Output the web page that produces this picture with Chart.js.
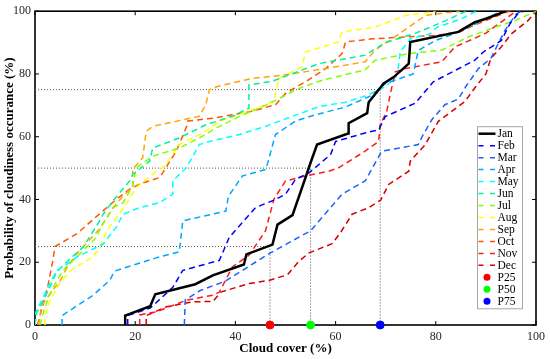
<!DOCTYPE html>
<html>
<head>
<meta charset="utf-8">
<script src="https://cdn.jsdelivr.net/npm/chart.js@4.4.1/dist/chart.umd.min.js"></script>
<style>
  html, body { margin: 0; padding: 0; background: #fff; }
</style>
</head>
<body>
<canvas id="cdf" width="550" height="359"></canvas>
<script>
// monthly CDF curves, [cloud cover %, probability %]
const months = ['Jan', 'Feb', 'Mar', 'Apr', 'May', 'Jun', 'Jul', 'Aug', 'Sep', 'Oct', 'Nov', 'Dec'];
const monthColors = ['#000000', '#0000ff', '#1f5fff', '#00a6ff', '#00ffff', '#00f0a0',
                     '#80ff00', '#ffff00', '#ffa500', '#ff5500', '#ff1a1a', '#d40000'];

const jan = [[18,0],[18,3],[23,6],[24,9.8],[32,13],[35.5,15.8],[41.7,19.3],[42.2,22.5],[47.4,25.6],[48.4,32],
  [51.4,35],[54,47],[55,51.7],[56.3,57.5],[62.5,61],[62.6,64.3],[66.3,67.5],[66.6,71],[69.6,77],[71.6,79],
  [74.6,83.3],[74.9,90.2],[84.5,93.4],[87.8,96.5],[90,97.6],[94,100]];
const feb = [[18.5,0],[18.5,3],[23,5.4],[27.5,12],[29.5,17.4],[36.8,20.6],[38.8,28],[44,37.4],[48,40],[50,41.7],
  [52,46.4],[54.7,48.5],[59,54.3],[60,58.5],[65.9,61.2],[68.6,62.2],[69.9,66.4],[75.9,70.7],[79.5,77.5],
  [87.8,84.4],[89.5,87],[93.1,90.7],[94.8,96],[96.4,99.2],[97.5,100]];
const mar = [[29.8,0],[30,8],[33,11],[38,14],[42,18],[47,23],[52.7,28],[55,30],[61.3,41.7],[65.9,45.9],
  [69.2,55.4],[76.5,57.5],[77.5,60.7],[79.2,65.4],[81.8,70.2],[84.5,72],[86,76],[88.5,81.7],[91,85],
  [93.8,93.9],[96,99],[97,100]];
const apr = [[5.4,0],[5.4,3],[11.6,9.5],[14.9,14.2],[15.9,17.2],[24.2,21.4],[28.8,23.3],[29.5,33.2],[38.1,36.3],
  [38.6,41],[41.4,47.5],[46.1,49.6],[48,60.7],[52,65],[56,67],[62,69.5],[67,73],[70,77],[75.5,80],[76.5,87.5],
  [80,90.7],[84,93],[88,96],[93,100]];
const may = [[0,0],[0,3.5],[2.3,11],[4.3,17.4],[5.6,18.5],[8.3,21.6],[10.9,23.7],[13.6,25.8],[16.2,31.1],
  [17.6,35.3],[20.9,37.4],[24.9,39],[27.5,41.7],[27.5,45.9],[30.2,50.1],[32.8,57.5],[34.8,58.5],[40.8,60.7],
  [46,63.3],[51.4,66.5],[56.7,69.6],[62,71],[66,73],[70,76],[72,79],[72.6,82.8],[72.9,87],[74.9,91.2],
  [78.9,92.8],[80.2,94.9],[85,97.5],[88,100]];
const jun = [[0,0],[0.3,3.7],[3,12.1],[4.3,16.9],[7,21.1],[9.6,24.8],[12.3,31.6],[13.6,35.3],[15.6,39.6],
  [16.9,42.2],[18.9,45.9],[19.5,48],[22.9,52.2],[23.5,56.4],[28.8,59.6],[34.1,63.8],[39.4,66.5],[42.7,69.1],
  [42.7,76.5],[47.4,77.7],[56.7,83.3],[65.9,86],[67.9,88],[70,90],[76,93],[82,97],[86,100]];
const jul = [[1,0],[1.5,3],[2.3,7],[3.6,12],[5.6,17.4],[7.6,20.6],[9.6,23.7],[12.3,28],[13.3,31.6],[15.6,37.4],
  [17.6,39],[19.5,44.3],[20.2,50],[23.5,53.8],[28.8,56.4],[32.8,59.6],[35.5,62.2],[40.8,66.5],[46,70],
  [52.7,75.4],[57.3,78],[65.9,81.3],[67.9,84.4],[74.6,86.5],[81.2,87.6],[86.5,91.8],[91.8,94.9],[95.8,97],[100,100]];
const aug = [[2,0],[2,3],[3,7.9],[5.3,14.2],[7.6,17.9],[10.9,21.1],[12.9,24.3],[14.3,30],[18.2,38.5],[20.2,43.8],
  [23.5,48],[26.2,51.2],[28.8,57.5],[33.5,61.2],[36.8,64.9],[43.4,68.6],[47.7,71.2],[48.7,78.6],[53.3,82.3],
  [54,87],[60.6,90.2],[61.3,93.4],[67.9,94.9],[73.9,98.6],[80,100]];
const sep = [[0.7,0],[1,3],[1.3,6],[3,10],[5,14],[6.3,18],[8.3,22.7],[12.9,30.6],[15.6,37.4],[17.5,41],[19.5,44],
  [19.5,49.6],[21.5,53.3],[22.2,61.7],[23.5,63.3],[32.8,66.5],[34.1,70.2],[34.8,75],[36.4,76],[43.4,78.6],
  [49.4,79.6],[58,81.7],[65.9,83.9],[67.9,87.6],[72,92],[78,98.7],[84.8,100]];
const oct = [[0.5,0],[1,3],[1.7,7],[2.6,12.7],[3.5,20],[4,25],[8.3,29],[13.3,36],[16.2,40],[18.9,43.3],[21,45],
  [24.9,47],[28.2,55.4],[30.2,63],[30.5,65],[36,66],[39.4,67],[43,68],[48,70.2],[50,73.8],[54,77.5],[58,81.7],
  [61.3,86.5],[62,90.2],[67.3,91.2],[80,92.3],[84.8,93.4],[87.5,95.4],[94.1,99.7],[95,100]];
const nov = [[20.9,0],[20.9,3.2],[24.2,4.2],[30.2,7.9],[35.5,9.5],[36.8,10.5],[39.4,18.5],[42.7,22.2],[46,30],
  [47.7,40.1],[50,45.9],[54,47.5],[58.6,49],[60.6,50.1],[65.9,55.4],[68.6,58.5],[68.9,63.8],[70.2,68],
  [70.6,71.2],[71.9,80.7],[73.9,81.7],[81.2,83.9],[83.8,88.6],[87.5,91.2],[90,93],[93,96.5],[96,100]];
const dec = [[22.2,0],[22.2,3],[26.2,5.8],[31.5,7.4],[35.5,7.5],[37.1,10.5],[42.7,13.2],[46.7,14.2],[50.4,16],
  [52.5,20],[54.7,23],[59.3,25.9],[61,29.5],[63.3,35.3],[66.6,37.4],[69,39.8],[70.6,44.8],[74.6,49],
  [74.9,52.2],[77.9,57.5],[80.5,64.9],[85.8,71.2],[88,76],[90,80],[91,85],[93,88.5],[95.1,92.8],[98.4,97],[100,100]];
const curves = [jan, feb, mar, apr, may, jun, jul, aug, sep, oct, nov, dec];

// percentiles of January
const pLabels = ['P25', 'P50', 'P75'];
const pLevels = [25, 50, 75];
const pCover = [46.9, 55, 68.9];
const pColors = ['#ff0000', '#00ff00', '#0000ff'];

const axisTicks = [0, 20, 40, 60, 80, 100];

const serif = "'Liberation Serif', 'Times New Roman', serif";

const datasets = [];
months.forEach((m, i) => {
  datasets.push({
    label: m,
    data: curves[i].map(p => ({ x: p[0], y: p[1] })),
    showLine: true,
    borderColor: monthColors[i],
    borderWidth: i === 0 ? 2.5 : 1.5,
    borderDash: i === 0 ? [] : [6, 4],
    pointRadius: 0,
    order: i === 0 ? 1 : 2,
    legendKind: 'line'
  });
});
// dotted guide lines
pLevels.forEach((lvl, i) => {
  datasets.push({
    label: 'guide' + i,
    data: [{ x: 0, y: lvl }, { x: pCover[i], y: lvl }, { x: pCover[i], y: 0 }],
    showLine: true,
    borderColor: '#555',
    borderWidth: 1,
    borderDash: [1, 2],
    pointRadius: 0,
    order: 5
  });
});
pLabels.forEach((lab, i) => {
  datasets.push({
    label: lab,
    data: [{ x: pCover[i], y: 0 }],
    pointRadius: 4,
    pointBackgroundColor: pColors[i],
    pointBorderColor: pColors[i],
    clip: false,
    order: 0,
    legendKind: 'dot'
  });
});

const frame = {
  id: 'frame',
  beforeDatasetsDraw(chart) {
    const { ctx, chartArea: a, scales: { x, y } } = chart;
    ctx.save();
    ctx.strokeStyle = '#000';
    ctx.lineWidth = 1;
    axisTicks.forEach(v => {
      const px = x.getPixelForValue(v), py = y.getPixelForValue(v);
      ctx.beginPath();
      ctx.moveTo(px, a.bottom); ctx.lineTo(px, a.bottom - 4);
      ctx.moveTo(px, a.top); ctx.lineTo(px, a.top + 4);
      ctx.moveTo(a.left, py); ctx.lineTo(a.left + 4, py);
      ctx.moveTo(a.right, py); ctx.lineTo(a.right - 4, py);
      ctx.stroke();
    });
    ctx.lineWidth = 1.6;
    ctx.strokeRect(a.left, a.top, a.right - a.left, a.bottom - a.top);
    ctx.restore();
  }
};

const legendBox = {
  id: 'legendBox',
  afterDraw(chart) {
    const { ctx, chartArea: a } = chart;
    const items = chart.data.datasets.filter(d => d.legendKind);
    const x0 = a.right - 59, y0 = a.top + 115, w = 45, rowH = 11.97;
    const h = items.length * rowH + 2.5;
    ctx.save();
    ctx.fillStyle = '#fff';
    ctx.fillRect(x0, y0, w, h);
    ctx.strokeStyle = '#a6a6a6';
    ctx.lineWidth = 1;
    ctx.strokeRect(x0 + 0.5, y0 + 0.5, w, h);
    ctx.font = '11.5px ' + serif;
    ctx.textBaseline = 'middle';
    items.forEach((d, i) => {
      const cy = y0 + 7.5 + i * rowH;
      if (d.legendKind === 'line') {
        ctx.strokeStyle = d.borderColor;
        ctx.lineWidth = d.borderWidth;
        ctx.setLineDash(d.borderDash.length ? [5, 6.5] : []);
        ctx.beginPath();
        ctx.moveTo(x0 + 1.5, cy);
        ctx.lineTo(x0 + 18.5, cy);
        ctx.stroke();
        ctx.setLineDash([]);
      } else {
        ctx.fillStyle = d.pointBackgroundColor;
        ctx.beginPath();
        ctx.arc(x0 + 10, cy, 3.5, 0, Math.PI * 2);
        ctx.fill();
      }
      ctx.fillStyle = '#000';
      ctx.fillText(d.label, x0 + 20.5, cy + 0.5);
    });
    ctx.restore();
  }
};

new Chart(document.getElementById('cdf'), {
  type: 'scatter',
  data: { datasets: datasets },
  options: {
    responsive: false,
    animation: false,
    devicePixelRatio: 1,
    layout: { padding: { top: 9, right: 12, left: 0, bottom: 0 } },
    plugins: {
      legend: { display: false },
      tooltip: { enabled: false }
    },
    scales: {
      x: {
        type: 'linear',
        min: 0,
        max: 100,
        afterFit: s => { s.height = 34; },
        afterBuildTicks: s => { s.ticks = axisTicks.map(v => ({ value: v })); },
        grid: { display: false, drawTicks: false },
        border: { display: false },
        ticks: { color: '#262626', font: { family: serif, size: 12 }, padding: 5, maxRotation: 0 },
        title: {
          display: true,
          text: 'Cloud cover (%)',
          color: '#000',
          font: { family: serif, size: 13, weight: 'bold' },
          padding: { top: 0, bottom: 3 }
        }
      },
      y: {
        type: 'linear',
        min: 0,
        max: 100,
        afterFit: s => { s.width = 35; },
        afterBuildTicks: s => { s.ticks = axisTicks.map(v => ({ value: v })); },
        grid: { display: false, drawTicks: false },
        border: { display: false },
        ticks: { color: '#262626', font: { family: serif, size: 12 }, padding: 4 },
        title: {
          display: true,
          text: 'Probability of cloudiness occurance (%)',
          color: '#000',
          font: { family: serif, size: 13, weight: 'bold' },
          padding: { top: 2, bottom: 0 }
        }
      }
    }
  },
  plugins: [frame, legendBox]
});
</script>
</body>
</html>
